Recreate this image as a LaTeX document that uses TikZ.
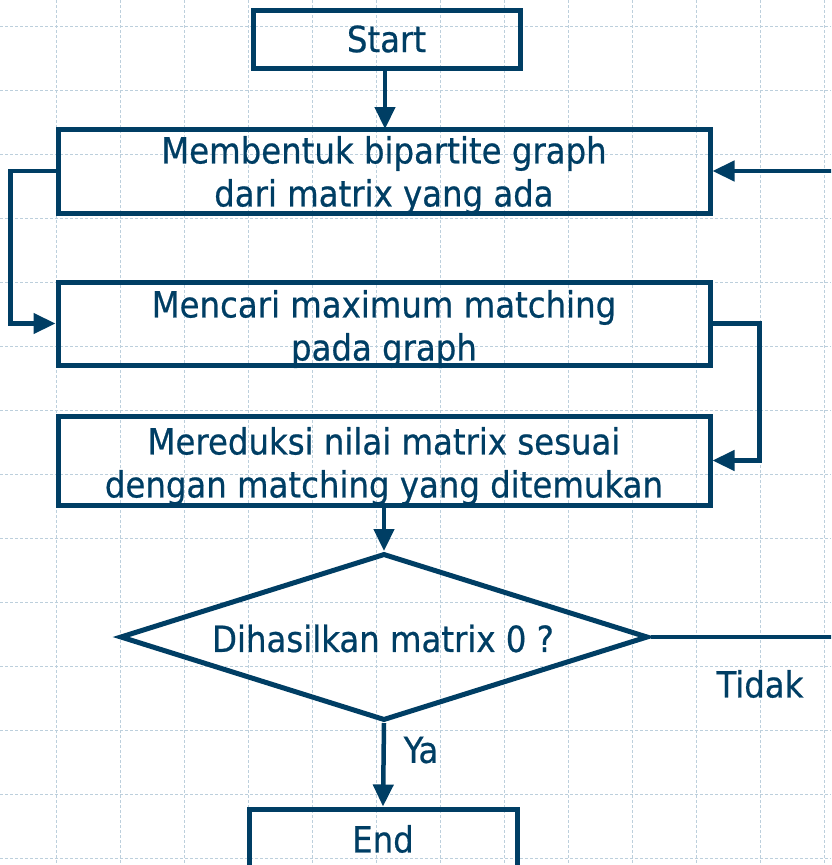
\documentclass[tikz,border=0pt]{standalone}
\usepackage{fontspec}
\setmainfont{DejaVu Sans Condensed}[FakeBold=0.6]
\usetikzlibrary{arrows.meta,shapes.geometric}
\definecolor{navy}{RGB}{0,62,100}
\definecolor{gridc}{RGB}{188,207,220}
\tikzset{
  flowbox/.style={draw=navy, line width=5pt, inner sep=0pt},
  caption/.style={text=navy, align=center, inner sep=0pt},
  decision/.style={diamond, draw=navy, line width=5pt, text=navy, inner sep=0pt},
  flow/.style={draw=navy, line width=4.5pt, -{Triangle[length=22pt,width=20pt]}},
  tag/.style={text=navy, inner sep=0pt},
  gridline/.style={draw=gridc, line width=1pt, dash pattern=on 3pt off 2pt}
}
\begin{document}
\begin{tikzpicture}[x=1pt, y=-1pt, font=\fontsize{36}{43}\selectfont, line join=miter]
  \useasboundingbox (0,0) rectangle (831,865);
  \clip (0,0) rectangle (831,865);
  % background grid
  \foreach \gx in {56,120,...,824} \draw[gridline] (\gx,0) -- (\gx,865);
  \foreach \gy in {26,90,...,858} \draw[gridline] (0,\gy) -- (831,\gy);

  % process boxes
  \node[flowbox, minimum width=267pt, minimum height=58pt] (start) at (386.5,39) {};
  \node[caption] (starttext) at (386.5,39) {Start};
  \node[flowbox, minimum width=652pt, minimum height=84pt] (build) at (384,171) {};
  \node[caption] (buildtext) at (384,175) {Membentuk bipartite graph\\dari matrix yang ada};
  \node[flowbox, minimum width=652pt, minimum height=83pt] (match) at (384,323.5) {};
  \node[caption] (matchtext) at (384,329) {Mencari maximum matching\\pada graph};
  \node[flowbox, minimum width=652pt, minimum height=89pt] (reduce) at (384,460.5) {};
  \node[caption] (reducetext) at (384,466) {Mereduksi nilai matrix sesuai\\dengan matching yang ditemukan};
  \node[decision, minimum width=528pt, minimum height=167pt] (zero) at (384,637) {};
  \node[caption] (zerotext) at (383,638.5) {Dihasilkan matrix 0 ?};
  \node[flowbox, minimum width=268pt, minimum height=58pt] (finish) at (383,838) {};
  \node[caption] (finishtext) at (383,839) {End};

  % connectors
  \draw[flow] (385,68) -- (385,129);
  \draw[flow] (build.west) -- ++(-45,0) |- (match.west);
  \draw[flow] (match.east) -- ++(47,0) |- (reduce.east);
  \draw[flow] (reduce.south) -- (zero.north);
  \coordinate (back) at (870,637);
  \draw[flow] (zero.east) -- (back) |- (build.east);
  \draw[flow] (zero.south) -- (finish.north);

  % branch labels
  \node[tag] (yes) at (421,750) {Ya};
  \node[tag] (no) at (760,684) {Tidak};
\end{tikzpicture}
\end{document}
